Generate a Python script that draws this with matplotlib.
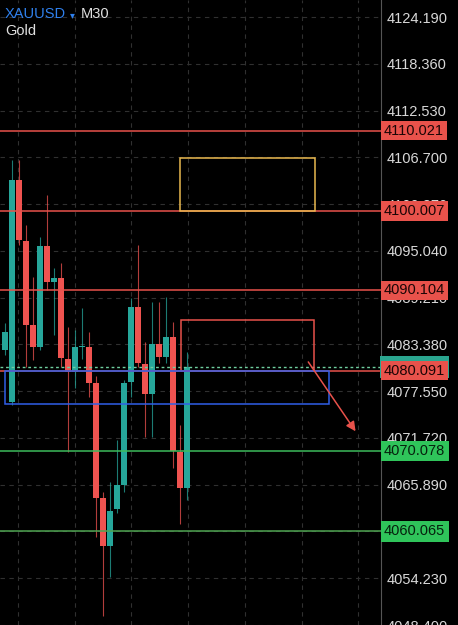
import matplotlib.pyplot as plt
import matplotlib.patches as patches
import numpy as np

# --- candle data (M30, XAUUSD) ---
opens = [4082.72, 4076.24, 4103.89, 4096.29, 4085.83, 4083.09, 4095.67, 4091.19, 4091.69,
         4081.60, 4079.98, 4083.00, 4083.09, 4078.61, 4064.17, 4058.19, 4062.80, 4065.91,
         4078.74, 4088.08, 4080.98, 4077.24, 4083.47, 4081.85, 4084.34, 4070.02, 4065.53]
highs = [4086.08, 4106.38, 4106.38, 4098.29, 4091.81, 4096.79, 4102.02, 4092.93, 4093.56,
         4085.58, 4085.21, 4087.95, 4084.96, 4079.40, 4065.00, 4066.28, 4071.51, 4079.00,
         4089.20, 4095.80, 4083.72, 4088.70, 4088.70, 4089.32, 4086.21, 4073.38, 4082.47]
lows = [4082.10, 4075.80, 4095.80, 4080.60, 4081.48, 4082.72, 4090.19, 4084.50, 4080.60,
        4070.02, 4077.99, 4081.50, 4076.87, 4059.31, 4049.47, 4054.33, 4062.42, 4065.04,
        4076.87, 4080.50, 4071.89, 4071.89, 4081.10, 4081.10, 4068.03, 4060.93, 4064.04]
closes = [4084.96, 4103.89, 4096.42, 4085.83, 4083.09, 4095.67, 4091.19, 4091.69, 4081.72,
          4079.98, 4083.09, 4083.10, 4078.61, 4064.29, 4058.19, 4062.67, 4065.91, 4078.61,
          4088.08, 4081.10, 4077.24, 4083.47, 4081.85, 4084.34, 4070.14, 4065.53, 4080.60]

# price axis ticks
tick_values = [4124.19, 4118.36, 4112.53, 4106.70, 4100.87, 4095.04, 4089.21,
               4083.38, 4077.55, 4071.72, 4065.89, 4060.06, 4054.23, 4048.40]

# horizontal levels drawn on the chart
red_levels = [4110.021, 4100.007, 4090.104, 4080.091]
green_levels = [4070.078, 4060.065]

# boxes / arrow (x in bar index, y in price)
yellow_box = (25.0, 4100.007, 44.3, 4106.63)
red_box = (25.1, 4080.091, 44.1, 4086.46)
blue_box = (0.0, 4076.00, 46.3, 4080.091)
arrow_from = (43.1, 4081.48)
arrow_to = (50.3, 4072.26)

BG = '#000000'
UP = '#26a69a'
DOWN = '#ef5350'
RED_LINE = '#e8524b'
GREEN_LINE = '#3dbb5c'

fig = plt.figure(figsize=(4.58, 6.25), dpi=100, facecolor=BG)
ax = fig.add_axes([0, 0, 381 / 458, 1])
ax.set_facecolor(BG)
ax.set_xlim(-0.714, 53.71)
ax.set_ylim(4048.47, 4126.31)

# grid
for v in tick_values:
    ax.axhline(v, color='#303030', lw=0.8, ls=(0, (4, 4)), zorder=0)
for gx in np.arange(1.86, 54, 8.1):
    ax.axvline(gx, color='#303030', lw=0.8, ls=(0, (4, 4)), zorder=0)

# candles
idx = np.arange(len(opens))
o = np.array(opens)
c = np.array(closes)
cols = [UP if cc >= oo else DOWN for oo, cc in zip(o, c)]
ax.vlines(idx, lows, highs, colors=cols, lw=0.8, alpha=0.75, zorder=2)
heights = np.maximum(np.abs(c - o), 0.12)
ax.bar(idx, heights, bottom=np.minimum(o, c), width=0.72, color=cols, zorder=3)

# current price dashed line
last = closes[-1]
ax.axhline(last, color='#6fcf9f', lw=1.0, ls=(0, (2, 2)), zorder=4)

# levels
for lv in red_levels:
    ax.axhline(lv, color=RED_LINE, lw=1.1, zorder=5)
ax.axhline(green_levels[0], color=GREEN_LINE, lw=1.1, zorder=5)
ax.axhline(green_levels[1], color='#4fa552', lw=1.1, zorder=5)

# rectangles
def add_box(b, col):
    x0, y0, x1, y1 = b
    ax.add_patch(patches.Rectangle((x0, y0), x1 - x0, y1 - y0, fill=False,
                                   edgecolor=col, lw=1.1, zorder=6))

add_box(yellow_box, '#e9b84f')
add_box(red_box, '#e8524b')
add_box(blue_box, '#2f5fe8')

ax.annotate('', xy=arrow_to, xytext=arrow_from,
            arrowprops=dict(arrowstyle='-|>', color='#e8524b', lw=1.1,
                            mutation_scale=14), zorder=7)

# price axis
ax.yaxis.tick_right()
ax.set_yticks(tick_values)
ax.set_yticklabels([f'{v:.3f}' for v in tick_values])
ax.tick_params(axis='y', length=0, pad=4, labelsize=10.5, labelcolor='#d8d8d8')
for lab in ax.get_yticklabels():
    lab.set_fontfamily('Liberation Sans')
ax.set_xticks([])
for s in ['top', 'bottom', 'left']:
    ax.spines[s].set_visible(False)
ax.spines['right'].set_color('#555555')
ax.spines['right'].set_linewidth(0.8)

tr = ax.get_yaxis_transform()

def price_tag(val, face, txt='#1a0505', pad=0.18):
    ax.text(1.008, val, f'{val:.3f}', transform=tr, ha='left', va='center',
            fontsize=10.5, family='Liberation Sans', color=txt, zorder=10,
            bbox=dict(boxstyle=f'square,pad={pad}', fc=face, ec='none'))

# current price tag sits behind the 4080.091 tag
ax.text(1.008, 4080.55, f'{last:.3f}', transform=tr, ha='left', va='center',
        fontsize=10.5, family='Liberation Sans', color='#0b2a25', zorder=9,
        bbox=dict(boxstyle='square,pad=0.25', fc='#2aa58f', ec='none'))
for lv in red_levels:
    price_tag(lv, '#e8524b')
for lv in green_levels:
    price_tag(lv, '#2fc45a', '#06210d', pad=0.22)

# header
fig.text(5 / 458, 1 - 14 / 625, 'XAUUSD', color='#2f80ed', fontsize=10.5,
         family='Liberation Sans', va='center', ha='left')
fig.text(70 / 458, 1 - 15 / 625, '▾', color='#2f80ed', fontsize=7,
         va='center', ha='left')
fig.text(81 / 458, 1 - 14 / 625, 'M30', color='#e0e0e0', fontsize=10.5,
         family='Liberation Sans', va='center', ha='left')
fig.text(5 / 458, 1 - 31 / 625, 'Gold', color='#e0e0e0', fontsize=10.5,
         family='Liberation Sans', va='center', ha='left')

fig.savefig('out.png', dpi=100, facecolor=BG)
